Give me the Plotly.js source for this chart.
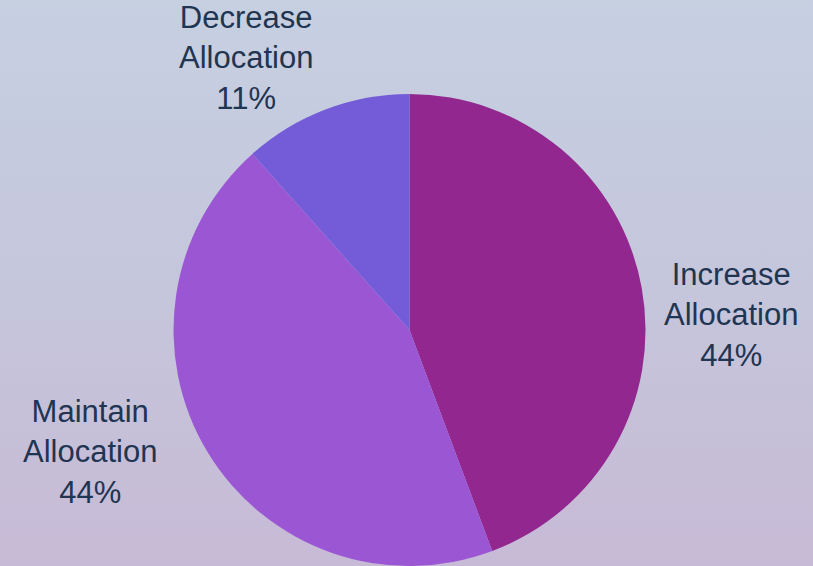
<!DOCTYPE html>
<html>
<head>
<meta charset="utf-8">
<script src="https://cdn.plot.ly/plotly-3.0.1.min.js"></script>
<style>
  html, body { margin: 0; padding: 0; width: 813px; height: 566px; overflow: hidden; }
  body { background: linear-gradient(to bottom, #c6d0e1 0%, #c5c6dc 50%, #c7bad6 100%); }
  #chart { width: 813px; height: 566px; }
</style>
</head>
<body>
<div id="chart"></div>
<script>
const categories = ["Increase Allocation", "Maintain Allocation", "Decrease Allocation"];
const labelLines = [["Increase", "Allocation"], ["Maintain", "Allocation"], ["Decrease", "Allocation"]];
const values = [44.3, 44.1, 11.6];
const pctLabels = ["44%", "44%", "11%"];
const colors = ["#92278f", "#9b57d3", "#745cd8"];

// label block centres (paper fractions of the plot area)
const labelPos = [[0.899, 0.5328], [0.111, 0.2415], [0.303, 1.0773]];

const annotations = categories.map((c, i) => ({
  text: labelLines[i].concat([pctLabels[i]]).join("<br>"),
  showarrow: false, xref: "paper", yref: "paper",
  x: labelPos[i][0], y: labelPos[i][1],
  xanchor: "center", yanchor: "middle", align: "center",
  font: { family: "Liberation Sans, Arial, sans-serif", size: 31, color: "#1f3552" }
}));

const data = [{
  type: "pie",
  labels: categories,
  values: values,
  sort: false,
  direction: "clockwise",
  rotation: 0,
  textinfo: "none",
  hoverinfo: "label+percent",
  marker: { colors: colors, line: { width: 0 } },
  domain: { x: [0.2128, 0.7946], y: [0, 1] },
  showlegend: false
}];

const layout = {
  width: 813, height: 566,
  margin: { l: 0, r: 0, t: 94, b: 0 },
  paper_bgcolor: "rgba(0,0,0,0)",
  plot_bgcolor: "rgba(0,0,0,0)",
  showlegend: false,
  annotations: annotations
};

Plotly.newPlot("chart", data, layout, { displayModeBar: false, staticPlot: true });
</script>
</body>
</html>
